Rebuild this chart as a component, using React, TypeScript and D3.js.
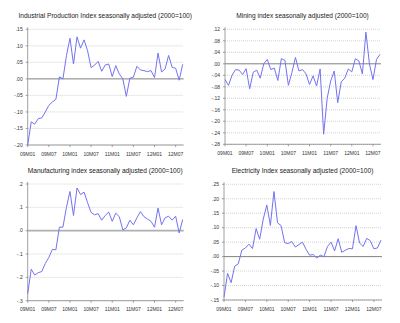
import React from "react";
import * as d3 from "d3";

const months: string[] = [];
for (let y = 9; y <= 12; y++) for (let m = 1; m <= 12; m++) months.push(`${String(y).padStart(2, "0")}M${String(m).padStart(2, "0")}`);
const dates = months.slice(0, 45);
const xTickLabels = ["09M01", "09M07", "10M01", "10M07", "11M01", "11M07", "12M01", "12M07"];

const industrial = [
  -0.2, -0.13, -0.137, -0.12, -0.118, -0.1, -0.08, -0.07, -0.062, 0.006, 0.0, 0.07,
  0.123, 0.045, 0.127, 0.093, 0.118, 0.085, 0.034, 0.042, 0.053, 0.023, 0.042, 0.045,
  0.007, 0.04, 0.015, 0.0, -0.053, 0.002, 0.005, 0.038, 0.027, 0.025, 0.022, 0.025,
  0.004, 0.078, 0.021, 0.03, 0.071, 0.035, 0.032, -0.004, 0.044,
];
const mining = [
  -0.055, -0.075, -0.04, -0.02, -0.022, -0.037, -0.017, -0.087, -0.03, -0.022, -0.05, 0.0,
  0.015, -0.02, -0.015, -0.058, 0.018, 0.012, -0.075, -0.03, 0.022, -0.025, -0.02, -0.035,
  -0.072, -0.042, -0.077, -0.018, -0.245, -0.12, -0.06, -0.025, -0.135, -0.063, -0.05, -0.018,
  -0.028, 0.018, 0.01, -0.035, 0.11, 0.0, -0.055, 0.015, 0.033,
];
const manufacturing = [
  -0.27, -0.165, -0.19, -0.18, -0.175, -0.14, -0.115, -0.08, -0.082, 0.015, 0.015, 0.1,
  0.168, 0.065, 0.183, 0.155, 0.165, 0.12, 0.078, 0.068, 0.073, 0.045, 0.065, 0.08,
  0.04, 0.075, 0.06, 0.003, 0.012, 0.045, 0.025, 0.055, 0.082, 0.06, 0.05, 0.04,
  0.015, 0.097, 0.025, 0.055, 0.062, 0.045, 0.062, -0.01, 0.048,
];
const electricity = [
  -0.14, -0.058, -0.09, -0.033, -0.025, 0.022, 0.03, 0.043, 0.028, 0.097, 0.06, 0.13,
  0.178, 0.108, 0.225, 0.117, 0.107, 0.048, 0.045, 0.052, 0.033, 0.042, 0.05, 0.025,
  0.005, 0.007, -0.005, 0.005, 0.0, 0.035, 0.05, 0.02, 0.062, 0.015, 0.022, 0.028,
  0.027, 0.107, 0.047, 0.035, 0.063, 0.055, 0.027, 0.03, 0.057,
];

const indTicks = [-0.2, -0.15, -0.1, -0.05, 0, 0.05, 0.1, 0.15];
const indTickLabels = ["-.20", "-.15", "-.10", "-.05", ".00", ".05", ".10", ".15"];
const minTicks = [-0.28, -0.24, -0.2, -0.16, -0.12, -0.08, -0.04, 0, 0.04, 0.08, 0.12];
const minTickLabels = ["-.28", "-.24", "-.20", "-.16", "-.12", "-.08", "-.04", ".00", ".04", ".08", ".12"];
const manTicks = [-0.3, -0.2, -0.1, 0, 0.1, 0.2];
const manTickLabels = ["-.3", "-.2", "-.1", ".0", ".1", ".2"];
const eleTicks = [-0.15, -0.1, -0.05, 0, 0.05, 0.1, 0.15, 0.2, 0.25];
const eleTickLabels = ["-.15", "-.10", "-.05", ".00", ".05", ".10", ".15", ".20", ".25"];

const FONT = "'Liberation Sans', Arial, sans-serif";

type PanelProps = {
  title: string;
  values: number[];
  ticks: number[];
  tickLabels: string[];
  x0: number;
  x1: number;
  yTop: number;
  yBot: number;
  zeroThick?: boolean;
};

function Panel({ title, values, ticks, tickLabels, x0, x1, yTop, yBot, zeroThick }: PanelProps) {
  const x = d3.scalePoint<string>().domain(dates).range([x0, x1]);
  const y = d3.scaleLinear().domain([ticks[0], ticks[ticks.length - 1]]).range([yBot, yTop]);
  const line = d3
    .line<number>()
    .x((_, i) => x(dates[i]) as number)
    .y((d) => y(d));
  const gridRight = x1 + 1;
  return (
    <g>
      <text x={(x0 + x1) / 2} y={yTop - 11.5} textAnchor="middle" fontFamily={FONT} fontSize={6.6} fill="#222">
        {title}
      </text>
      {ticks.map((t, i) =>
        t === 0 ? null : (
          <line key={"g" + i} x1={x0} x2={gridRight} y1={y(t)} y2={y(t)} stroke="#c8c8c8" strokeWidth={0.8} strokeDasharray="1,1" />
        )
      )}
      <line
        x1={x0}
        x2={gridRight}
        y1={y(0)}
        y2={y(0)}
        stroke={zeroThick ? "#b0b0b0" : "#808080"}
        strokeWidth={zeroThick ? 1.8 : 1}
      />
      <line x1={x0} x2={x0} y1={yTop - 2} y2={yBot} stroke="#888" strokeWidth={0.8} />
      <line x1={x0} x2={gridRight} y1={yBot} y2={yBot} stroke="#888" strokeWidth={0.8} />
      {ticks.map((t, i) => (
        <g key={"t" + i}>
          <line x1={x0 - 2} x2={x0} y1={y(t)} y2={y(t)} stroke="#888" strokeWidth={0.8} />
          <text x={x0 - 5} y={y(t) + 1.8} textAnchor="end" fontFamily={FONT} fontSize={5} fill="#333">
            {tickLabels[i]}
          </text>
        </g>
      ))}
      {xTickLabels.map((lab) => (
        <g key={lab}>
          <line x1={x(lab)} x2={x(lab)} y1={yBot} y2={yBot + 2} stroke="#888" strokeWidth={0.8} />
          <text x={x(lab)} y={yBot + 10.5} textAnchor="middle" fontFamily={FONT} fontSize={5} fill="#333">
            {lab}
          </text>
        </g>
      ))}
      <path d={line(values) || ""} fill="none" stroke="#7373f2" strokeWidth={1} strokeLinejoin="round" />
    </g>
  );
}

export default function App() {
  return (
    <svg width={400} height={323} style={{ position: "absolute", left: 0, top: 0, background: "#fff" }}>
      <rect width={400} height={323} fill="#fff" />
      <Panel
        title="Industrial Production Index seasonally adjusted (2000=100)"
        values={industrial}
        ticks={indTicks}
        tickLabels={indTickLabels}
        x0={27.7}
        x1={182.7}
        yTop={29.3}
        yBot={145}
      />
      <Panel
        title="Mining index seasonally adjusted (2000=100)"
        values={mining}
        ticks={minTicks}
        tickLabels={minTickLabels}
        x0={225}
        x1={380}
        yTop={29.3}
        yBot={144.3}
      />
      <Panel
        title="Manufacturing index seasonally adjusted (2000=100)"
        values={manufacturing}
        ticks={manTicks}
        tickLabels={manTickLabels}
        x0={27.7}
        x1={182.7}
        yTop={184}
        yBot={300.7}
        zeroThick
      />
      <Panel
        title="Electricity Index seasonally adjusted (2000=100)"
        values={electricity}
        ticks={eleTicks}
        tickLabels={eleTickLabels}
        x0={224}
        x1={381}
        yTop={184.3}
        yBot={300}
      />
    </svg>
  );
}
